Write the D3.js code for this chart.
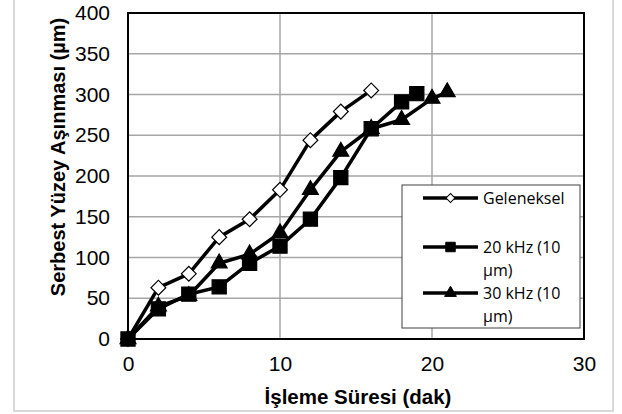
<!DOCTYPE html>
<html>
<head>
<meta charset="utf-8">
<script src="https://cdn.jsdelivr.net/npm/d3@7"></script>
<style>
  body { margin: 0; background: #fff; }
  svg { display: block; }
</style>
</head>
<body>
<svg id="chart" width="622" height="414"></svg>
<script>
// data
var seriesNames = ['Geleneksel', '20 kHz (10 µm)', '30 kHz (10 µm)'];
var gelenekselX = [0, 2, 4, 6, 8, 10, 12, 14, 16];
var gelenekselY = [0, 63, 80, 125, 147, 183, 244, 279, 305];
var khz20X = [0, 2, 4, 6, 8, 10, 12, 14, 16, 18, 19];
var khz20Y = [0, 37, 55, 64, 93, 114, 147, 198, 258, 291, 301];
var khz30X = [0, 2, 4, 6, 8, 10, 12, 14, 16, 18, 20, 21];
var khz30Y = [0, 40, 53, 93, 104, 130, 183, 230, 258, 269, 295, 303];
var xTicks = [0, 10, 20, 30];
var yTicks = [0, 50, 100, 150, 200, 250, 300, 350, 400];

var svg = d3.select('#chart');
var margin = {left: 128, top: 13, right: 38, bottom: 75};
var width = 622 - margin.left - margin.right;
var height = 414 - margin.top - margin.bottom;
var arial = 'Arial, "Liberation Sans", sans-serif';

// outer chart border
svg.append('rect')
    .attr('x', 14).attr('y', -5)
    .attr('width', 599).attr('height', 416)
    .style('fill', '#fff')
    .style('stroke', '#d9d9d9')
    .style('stroke-width', 2);

var g = svg.append('g').attr('transform', 'translate(' + margin.left + ',' + margin.top + ')');

var x = d3.scaleLinear().domain([0, 30]).range([0, width]);
var y = d3.scaleLinear().domain([0, 400]).range([height, 0]);

// grid
g.selectAll('line.hgrid').data(yTicks.slice(1, -1)).enter()
    .append('line').attr('class', 'hgrid')
    .attr('x1', 0).attr('x2', width)
    .attr('y1', function(d) { return y(d); }).attr('y2', function(d) { return y(d); })
    .style('stroke', '#a6a6a6').style('stroke-width', 1.5);
g.selectAll('line.vgrid').data(xTicks.slice(1, -1)).enter()
    .append('line').attr('class', 'vgrid')
    .attr('y1', 0).attr('y2', height)
    .attr('x1', function(d) { return x(d); }).attr('x2', function(d) { return x(d); })
    .style('stroke', '#a6a6a6').style('stroke-width', 1.5);

// axes (labels only, the frame is drawn below)
var xAxis = g.append('g').attr('transform', 'translate(0,' + height + ')')
    .call(d3.axisBottom(x).tickValues(xTicks).tickSize(0).tickPadding(17));
var yAxis = g.append('g')
    .call(d3.axisLeft(y).tickValues(yTicks).tickSize(0).tickPadding(18));
[xAxis, yAxis].forEach(function(a) {
    a.attr('font-family', null).attr('font-size', null);
    a.select('.domain').remove();
    a.selectAll('text')
        .style('font-family', arial)
        .style('font-size', '21px')
        .style('fill', '#000');
});

// plot frame
g.append('rect')
    .attr('x', 0).attr('y', 0).attr('width', width).attr('height', height)
    .style('fill', 'none').style('stroke', '#000').style('stroke-width', 2);

// axis titles
svg.append('text')
    .attr('x', 358).attr('y', 404)
    .attr('text-anchor', 'middle')
    .style('font-family', arial)
    .style('font-size', '20.5px').style('font-weight', 'bold')
    .text('İşleme Süresi (dak)');
svg.append('text')
    .attr('transform', 'translate(65,157) rotate(-90)')
    .attr('text-anchor', 'middle')
    .style('font-family', arial)
    .style('font-size', '20px').style('font-weight', 'bold')
    .text('Serbest Yüzey Aşınması (µm)');

var diamond = {
    type: d3.symbolSquare, size: 110, rotate: 45, fill: '#fff'
};
var square = { type: d3.symbolSquare, size: 200, rotate: 0, fill: '#000' };
var triangle = { type: d3.symbolTriangle, size: 110, rotate: 0, fill: '#000' };

var series = [
    {name: seriesNames[0], xs: gelenekselX, ys: gelenekselY, mark: diamond},
    {name: seriesNames[2], xs: khz30X, ys: khz30Y, mark: triangle},
    {name: seriesNames[1], xs: khz20X, ys: khz20Y, mark: square}
];

var line = d3.line()
    .x(function(d) { return x(d[0]); })
    .y(function(d) { return y(d[1]); });

series.forEach(function(s) {
    var pts = s.xs.map(function(v, i) { return [v, s.ys[i]]; });
    g.append('path')
        .datum(pts)
        .attr('d', line)
        .style('fill', 'none')
        .style('stroke', '#000')
        .style('stroke-width', 3.5)
        .style('stroke-linejoin', 'round');
    g.selectAll(null).data(pts).enter()
        .append('path')
        .attr('d', d3.symbol().type(s.mark.type).size(s.mark.size))
        .attr('transform', function(d) {
            return 'translate(' + x(d[0]) + ',' + y(d[1]) + ') rotate(' + s.mark.rotate + ')';
        })
        .style('fill', s.mark.fill)
        .style('stroke', '#000')
        .style('stroke-width', 1.2);
});

// legend
var lg = svg.append('g').attr('transform', 'translate(402,185)');
lg.append('rect')
    .attr('width', 178).attr('height', 143)
    .style('fill', '#fff').style('stroke', '#404040').style('stroke-width', 1);

var legendItems = [
    {lines: ['Geleneksel'], y: 13, mark: diamond, size: 40},
    {lines: ['20 kHz (10', 'µm)'], y: 62, mark: square, size: 90},
    {lines: ['30 kHz (10', 'µm)'], y: 108, mark: triangle, size: 60}
];
legendItems.forEach(function(it) {
    var row = lg.append('g').attr('transform', 'translate(0,' + it.y + ')');
    row.append('line')
        .attr('x1', 21).attr('x2', 76)
        .style('stroke', '#000').style('stroke-width', 3.5);
    row.append('path')
        .attr('d', d3.symbol().type(it.mark.type).size(it.size))
        .attr('transform', 'translate(48.5,0) rotate(' + it.mark.rotate + ')')
        .style('fill', it.mark.fill)
        .style('stroke', '#000').style('stroke-width', 1);
    row.selectAll('text').data(it.lines).enter()
        .append('text')
        .attr('x', 81)
        .attr('y', function(d, i) { return i * 23; })
        .attr('dy', '0.35em')
        .style('font-family', '"Open Sans", sans-serif')
        .style('font-size', '16px')
        .style('fill', '#000')
        .text(function(d) { return d; });
});
</script>
</body>
</html>
